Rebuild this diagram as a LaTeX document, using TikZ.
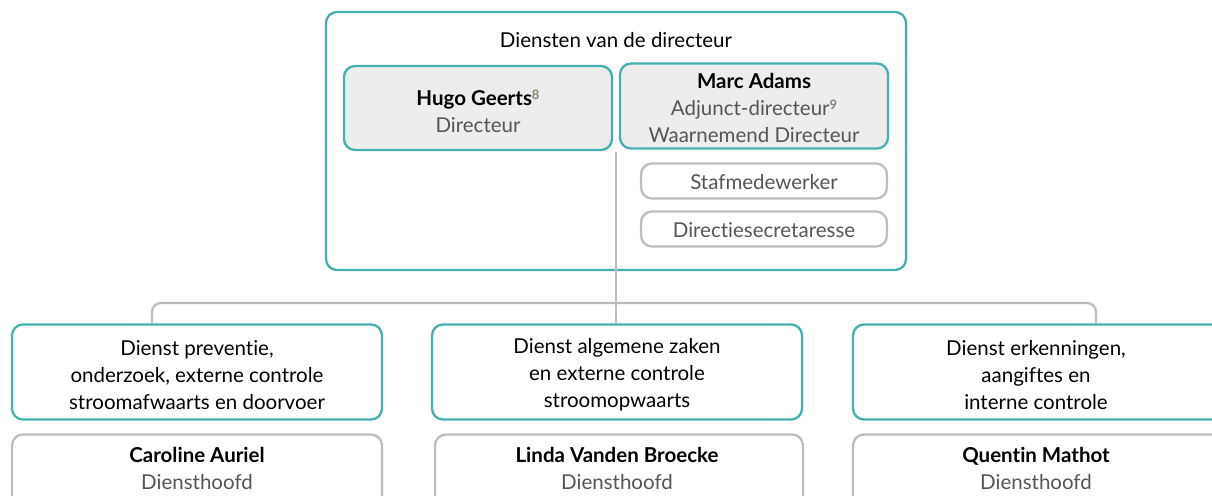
\documentclass[tikz,border=0pt]{standalone}
\usepackage{fontspec}
\setmainfont{Lato}[Ligatures=NoCommon]
\definecolor{tealc}{HTML}{45B0B2}
\definecolor{grayline}{HTML}{BDBDBD}
\definecolor{fillg}{HTML}{EDEDED}
\definecolor{lighttext}{HTML}{555555}
\definecolor{supc}{HTML}{8C7F6E}
\newcommand{\lt}[1]{{\color{lighttext}#1}}
\newcommand{\sups}[1]{\raisebox{0.55ex}{\fontsize{13}{13}\selectfont\color{supc}\bfseries #1}}
\tikzset{
  txt/.style={font=\fontsize{20.5}{27}\selectfont, align=center, inner sep=0pt},
  tealbox/.style={draw=tealc, line width=2.3pt, rounded corners=11pt, inner sep=0pt},
  graybox/.style={draw=grayline, line width=2.3pt, rounded corners=11pt, inner sep=0pt},
  conn/.style={draw=grayline, line width=2.3pt, rounded corners=9pt}
}
\begin{document}
\begin{tikzpicture}[x=1pt,y=-1pt]
\useasboundingbox (0,0) rectangle (1212,495);
\clip (0,0) rectangle (1212,495);
% outer director box
\node[tealbox, minimum width=580pt, minimum height=258pt] (outer) at (616,141) {};
\node[txt] (title) at (616,40) {Diensten van de directeur};
\node[tealbox, fill=fillg, minimum width=268pt, minimum height=84pt] (hugo) at (478,108) {};
\node[txt] (hugot) at (478,111) {\textbf{Hugo Geerts}\sups{8}\\\lt{Directeur}};
\node[tealbox, fill=fillg, minimum width=268pt, minimum height=85pt] (marc) at (754,106) {};
\node[txt] (marct) at (754,108) {\textbf{Marc Adams}\\\lt{Adjunct-directeur}\sups{9}\\\lt{Waarnemend Directeur}};
\node[graybox, minimum width=246pt, minimum height=35pt] (staf) at (764,181) {};
\node[txt] (staft) at (764,182) {\lt{Stafmedewerker}};
\node[graybox, minimum width=246pt, minimum height=35pt] (secr) at (764,229) {};
\node[txt] (secrt) at (764,230) {\lt{Directiesecretaresse}};
\coordinate (top) at (616,152);
% services
\node[tealbox, minimum width=370pt, minimum height=95pt] (d1) at (197,372) {};
\node[txt] (d1t) at (197,375) {Dienst preventie,\\onderzoek, externe controle\\stroomafwaarts en doorvoer};
\node[tealbox, minimum width=370pt, minimum height=95pt] (d2) at (617,372) {};
\node[txt] (d2t) at (617,375) {Dienst algemene zaken\\en externe controle\\stroomopwaarts};
\node[tealbox, minimum width=370pt, minimum height=95pt] (d3) at (1038,372) {};
\node[txt] (d3t) at (1036,375) {Dienst erkenningen,\\aangiftes en\\interne controle};
% heads
\node[graybox, minimum width=370pt, minimum height=95pt] (h1) at (197,482) {};
\node[txt] (h1t) at (197,468) {\textbf{Caroline Auriel}\\\lt{Diensthoofd}};
\node[graybox, minimum width=368pt, minimum height=95pt] (h2) at (619,482) {};
\node[txt] (h2t) at (617,468) {\textbf{Linda Vanden Broecke}\\\lt{Diensthoofd}};
\node[graybox, minimum width=370pt, minimum height=95pt] (h3) at (1038,482) {};
\node[txt] (h3t) at (1036,468) {\textbf{Quentin Mathot}\\\lt{Diensthoofd}};
% connectors
\draw[conn] (d1.north -| 152,0) -- (152,303) -- (1096,303) -- (d3.north -| 1096,0);
\draw[draw=grayline, line width=2.3pt] (top) -- (d2.north -| top);
\end{tikzpicture}
\end{document}
